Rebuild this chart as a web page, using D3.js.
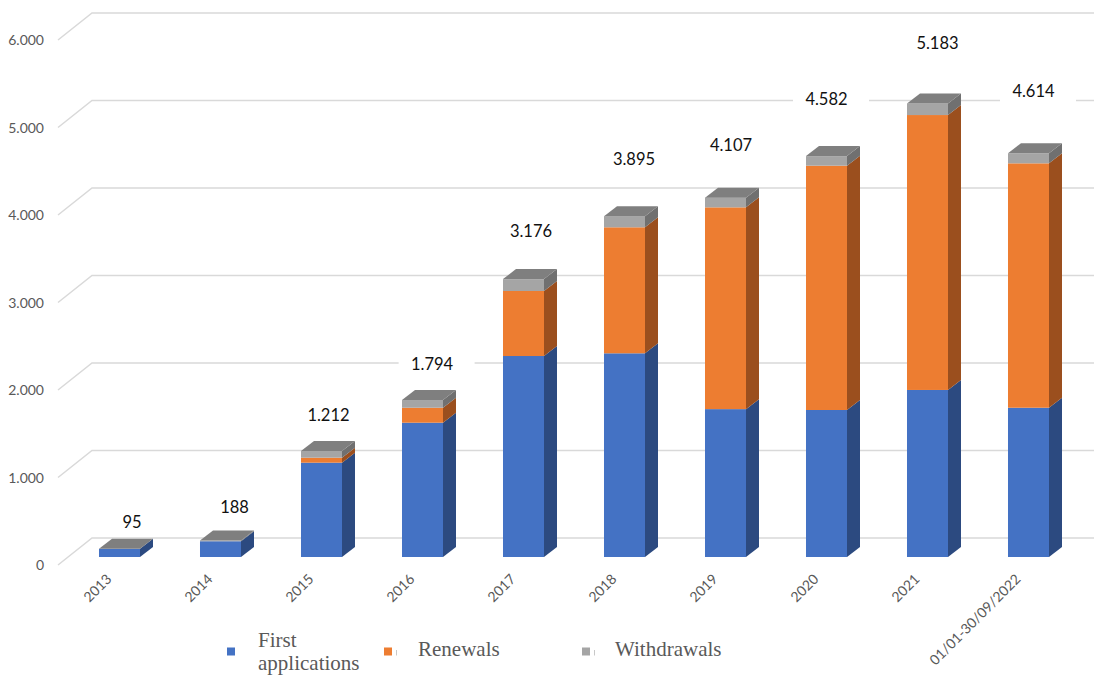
<!DOCTYPE html>
<html><head><meta charset="utf-8">
<script src="https://cdn.jsdelivr.net/npm/d3@7"></script>
<style>html,body{margin:0;padding:0;background:#fff;}svg{display:block;}</style>
</head><body>
<svg id="chart" width="1094" height="676"></svg>
<script>
const categories = ["2013","2014","2015","2016","2017","2018","2019","2020","2021","01/01-30/09/2022"];
const firstApplications = [93,180,1078,1535,2297,2328,1690,1680,1909,1706];
const renewals = [0,0,57,171,743,1440,2306,2792,3142,2793];
const withdrawals = [2,8,77,88,136,127,111,110,132,115];
const totals = [95,188,1212,1794,3176,3895,4107,4582,5183,4614];
const yTicks = [0,1000,2000,3000,4000,5000,6000];
const seriesNames = ["First applications","Renewals","Withdrawals"];

// layout: label nudges (pixels) relative to bar centre / bar top
const labelShiftX = [12.5,14,7,9.6,7.5,9.5,5.5,0,10,5];
const labelShiftY = [-27,-33.8,-36,-36,-48,-57.2,-52.6,-56.8,-60.8,-62.3];

const W = 1094, H = 676;
const svg = d3.select("#chart");
const loc = d3.formatLocale({decimal:",", thousands:".", grouping:[3], currency:["","€"]});
const fmt = loc.format(",d");

const y = d3.scaleLinear().domain([0,6000]).range([557,32]);
const x = d3.scaleBand().domain(categories).range([69,1079]).paddingInner(0.594).paddingOuter(0.297);
const bw = x.bandwidth();
const dX = 13, dY = 10;           // bar depth
const wallX0 = 58, wallX1 = 92;   // gridline wall
const front = 8, back = -19;

const colors = [
  {front:"#4472C4", side:"#2C4A80"},
  {front:"#ED7D31", side:"#9B4F1E"},
  {front:"#A5A5A5", side:"#707070"}
];
const topColor = "#7F7F7F";
const font = "Lato, 'Open Sans', sans-serif";

// gridlines + y tick labels
const grid = svg.append("g");
yTicks.forEach(t => {
  const yf = y(t) + front, yb = y(t) + back;
  grid.append("polyline")
    .attr("points", `${wallX0},${yf} ${wallX1},${yb} ${W},${yb}`)
    .attr("fill","none").attr("stroke","#D9D9D9").attr("stroke-width",1.5);
  svg.append("text").attr("x",44).attr("y",yf+5)
    .attr("text-anchor","end").attr("font-family",font)
    .attr("font-size",14).attr("fill","#595959").text(fmt(t));
});

// value labels (with white backgrounds)
const labG = svg.append("g");
categories.forEach((c,i) => {
  const cx = x(c) + bw/2 + labelShiftX[i], cy = y(totals[i]) + labelShiftY[i];
  labG.append("rect").attr("x",cx+4.5-38).attr("y",cy-11).attr("width",76).attr("height",22).attr("fill","#fff");
  labG.append("text").attr("x",cx).attr("y",cy+6).attr("text-anchor","middle")
    .attr("font-family",font).attr("font-size",16.5).attr("fill","#111")
    .text(fmt(totals[i]));
});

// bars
const stackData = [firstApplications, renewals, withdrawals];
const barsG = svg.append("g");
categories.forEach((c,i) => {
  const x0 = x(c);
  let cum = 0;
  stackData.forEach((arr,s) => {
    const v = arr[i];
    if (v <= 0) return;
    const yb = y(cum), yt = y(cum+v);
    barsG.append("rect").attr("x",x0).attr("y",yt).attr("width",bw).attr("height",yb-yt)
      .attr("fill",colors[s].front);
    barsG.append("polygon")
      .attr("points",`${x0+bw},${yb} ${x0+bw+dX},${yb-dY} ${x0+bw+dX},${yt-dY} ${x0+bw},${yt}`)
      .attr("fill",colors[s].side);
    cum += v;
  });
  const yt = y(cum);
  barsG.append("polygon")
    .attr("points",`${x0},${yt} ${x0+dX},${yt-dY} ${x0+bw+dX},${yt-dY} ${x0+bw},${yt}`)
    .attr("fill",topColor);
});

// x axis labels
categories.forEach(c => {
  const ax = x(c) + bw/2 - 7, ay = 580;
  svg.append("text").attr("transform",`translate(${ax},${ay}) rotate(-45)`)
    .attr("text-anchor","end").attr("font-family",font)
    .attr("font-size",14).attr("fill","#595959").text(c);
});

// legend
const legend = [
  {sq:227, tx:258, lines:["First","applications"], y0:646.5, tick:false},
  {sq:384, tx:418, lines:["Renewals"], y0:656, tick:true},
  {sq:582, tx:615, lines:["Withdrawals"], y0:656, tick:true}
];
legend.forEach((l,i) => {
  svg.append("rect").attr("x",l.sq).attr("y",647.5).attr("width",8).attr("height",8).attr("fill",colors[i].front);
  if (l.tick) svg.append("line").attr("x1",l.sq+12.5).attr("x2",l.sq+12.5).attr("y1",650).attr("y2",655.5)
    .attr("stroke","#c8c8c8").attr("stroke-width",1);
  const t = svg.append("text").attr("font-family","'Liberation Serif', 'Times New Roman', serif")
    .attr("font-size",21).attr("fill","#595959");
  l.lines.forEach((ln,k) => t.append("tspan").attr("x",l.tx).attr("y",l.y0 + k*23.5).text(ln));
});
</script>
</body></html>
